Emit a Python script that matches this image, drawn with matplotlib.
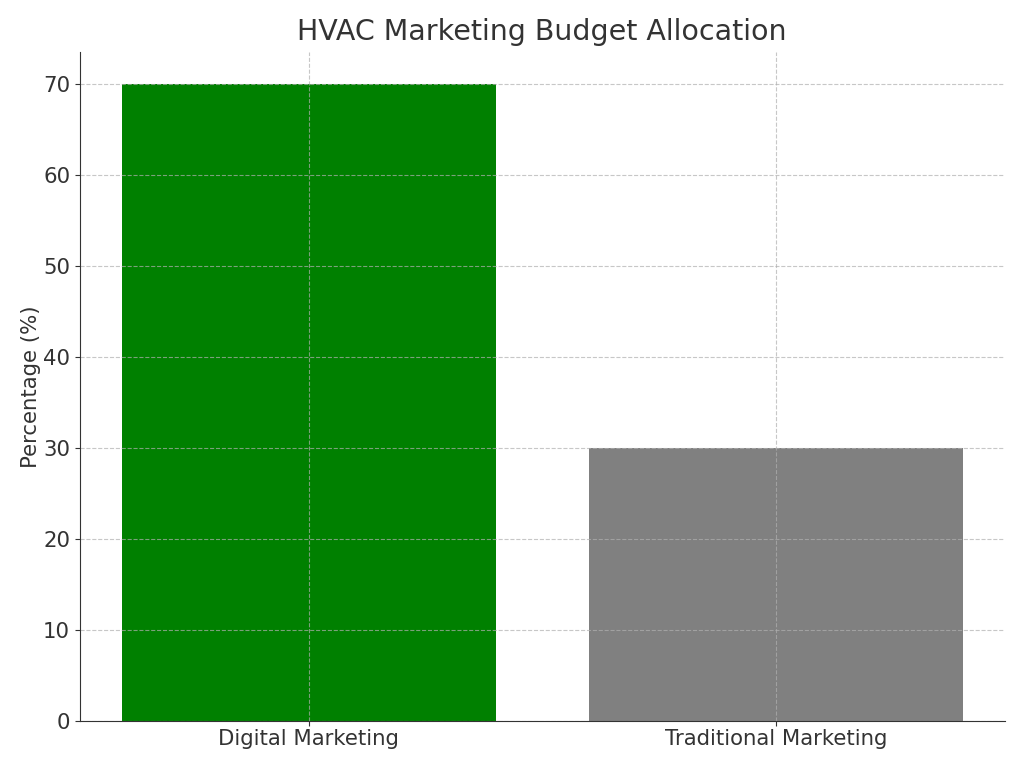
import matplotlib
matplotlib.use("Agg")
import matplotlib.pyplot as plt

categories = ["Digital Marketing", "Traditional Marketing"]
percentages = [70, 30]
bar_colors = ["green", "gray"]

plt.rcParams['text.color'] = '#333333'
plt.rcParams['axes.labelcolor'] = '#333333'
plt.rcParams['xtick.color'] = '#333333'
plt.rcParams['ytick.color'] = '#333333'
plt.rcParams['axes.edgecolor'] = '#333333'

fig = plt.figure(figsize=(10.24, 7.68), dpi=100)
ax = fig.add_axes([0.078, 0.061, 0.903, 0.871])
ax.bar(categories, percentages, color=bar_colors, width=0.8)
ax.set_title("HVAC Marketing Budget Allocation", fontsize=20.5, pad=8.5)
ax.set_ylabel("Percentage (%)", fontsize=15.3, labelpad=1.5)
ax.tick_params(axis='both', labelsize=15.3)
ax.tick_params(axis='x', pad=2.5)
ax.grid(True, linestyle='--', alpha=0.7)
for s in ['top', 'right']:
    ax.spines[s].set_visible(False)
fig.savefig("out.png", dpi=100)
